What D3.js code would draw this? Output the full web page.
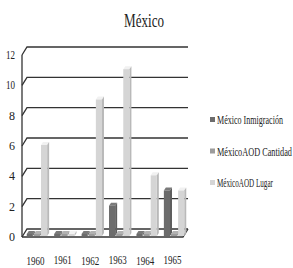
<!DOCTYPE html>
<html>
<head>
<meta charset="utf-8">
<script src="https://cdn.jsdelivr.net/npm/d3@7"></script>
<style>
  body { margin: 0; background: #fff; }
  svg { display: block; }
  text { font-family: 'Liberation Serif', 'Times New Roman', serif; fill: #222; }
</style>
</head>
<body>
<svg id="chart" width="293" height="268"></svg>
<script>
// datos
const years = ['1960', '1961', '1962', '1963', '1964', '1965'];
const series = ['México Inmigración', 'MéxicoAOD Cantidad', 'MéxicoAOD Lugar'];
const inmigracion = [0, 0, 0, 2, 0, 3];
const cantidad = [0, 0, 0, 0, 0, 0];
const lugar = [6, 0, 9, 11, 4, 3];
const yTicks = [0, 2, 4, 6, 8, 10, 12];
const colors = ['#6c6c6c', '#9c9c9c', '#d5d5d5'];

const values = [inmigracion, cantidad, lugar];
const svg = d3.select('#chart');

// comprime el texto horizontalmente hasta el ancho deseado
function squeeze(sel, x, y, width) {
    sel.each(function (d, i) {
        const t = d3.select(this);
        const w = this.getComputedTextLength();
        const tw = typeof width === 'function' ? width(d, i) : width;
        const xx = typeof x === 'function' ? x(d, i) : x;
        const yy = typeof y === 'function' ? y(d, i) : y;
        t.attr('transform', `translate(${xx},${yy}) scale(${Math.min(1, tw / w)},1)`);
    });
}

const depthX = 5, depthY = 8;  // profundidad del "3D"

// escala de la pared trasera
const yBack = d3.scaleLinear().domain([0, 12]).range([229, 47]);
const yFront = v => yBack(v) + depthY;

const x0 = d3.scaleBand().domain(years).range([24, 188]).paddingInner(0.22).paddingOuter(0.1);
const x1 = d3.scaleBand().domain(series).range([0, x0.bandwidth()]);

const xLeft = 22, xRight = 188;

// título
svg.append('text')
    .attr('text-anchor', 'middle')
    .style('font-size', '19px')
    .text('México')
    .call(squeeze, 144, 27, 40);

// líneas de la cuadrícula (pared trasera)
const grid = svg.append('g');
grid.selectAll('path.grid')
    .data(yTicks)
    .enter()
    .append('path')
    .attr('d', d => `M${xLeft},${yFront(d)} L${xLeft + depthX},${yBack(d)} L${xRight},${yBack(d)}`)
    .attr('fill', 'none')
    .attr('stroke', '#333')
    .attr('stroke-width', 1.3);

// eje vertical frontal y base frontal
grid.append('line')
    .attr('x1', xLeft).attr('x2', xLeft)
    .attr('y1', yFront(12)).attr('y2', yFront(0))
    .attr('stroke', '#333').attr('stroke-width', 1.3);
grid.append('path')
    .attr('d', `M${xLeft},${yFront(0)} L${xRight - depthX},${yFront(0)} L${xRight},${yBack(0)}`)
    .attr('fill', 'none')
    .attr('stroke', '#333').attr('stroke-width', 1.3);

// etiquetas del eje Y
svg.append('g').selectAll('text')
    .data(yTicks)
    .enter()
    .append('text')
    .attr('text-anchor', 'end')
    .style('font-size', '12px')
    .text(d => d)
    .call(squeeze, 15, d => yFront(d) + 4, 9);

// barras
const bw = x1.bandwidth() - 1;
const dX = 2, dY = 3;
const barData = [];
years.forEach((yr, i) => {
    series.forEach((s, j) => {
        barData.push({ yr, s, j, v: values[j][i] });
    });
});

const g = svg.append('g').selectAll('g.bar')
    .data(barData)
    .enter()
    .append('g')
    .attr('class', 'bar');

const base = yFront(0) - 1;
const topY = d => Math.min(yFront(d.v) - 1, base - 2);

// cara superior
g.append('path')
    .attr('d', d => {
        const x = x0(d.yr) + x1(d.s), t = topY(d);
        return `M${x},${t} L${x + dX},${t - dY} L${x + bw + dX},${t - dY} L${x + bw},${t} Z`;
    })
    .attr('fill', d => d3.color(colors[d.j]).brighter(0.35));

// cara lateral
g.append('path')
    .attr('d', d => {
        const x = x0(d.yr) + x1(d.s) + bw, t = topY(d);
        return `M${x},${t} L${x + dX},${t - dY} L${x + dX},${base - dY} L${x},${base} Z`;
    })
    .attr('fill', d => d3.color(colors[d.j]).darker(0.4));

// cara frontal
g.append('rect')
    .attr('x', d => x0(d.yr) + x1(d.s))
    .attr('y', d => topY(d))
    .attr('width', bw)
    .attr('height', d => base - topY(d))
    .attr('fill', d => colors[d.j]);

// etiquetas del eje X
svg.append('g').selectAll('text')
    .data(years)
    .enter()
    .append('text')
    .attr('text-anchor', 'middle')
    .style('font-size', '12px')
    .text(d => d)
    .call(squeeze, d => x0(d) + x0.bandwidth() / 2 - 2, (d, i) => 265 - (i % 2), 18);

// leyenda
const legendW = [66, 75, 56];
const legend = svg.append('g').selectAll('g')
    .data(series)
    .enter()
    .append('g')
    .attr('transform', (d, i) => `translate(210,${120 + i * 31.5})`);

legend.append('rect')
    .attr('x', 0).attr('y', -3)
    .attr('width', 5).attr('height', 5)
    .attr('fill', (d, i) => colors[i]);

legend.append('text')
    .style('font-size', '12px')
    .text(d => d)
    .call(squeeze, 7, 4, (d, i) => legendW[i]);
</script>
</body>
</html>
